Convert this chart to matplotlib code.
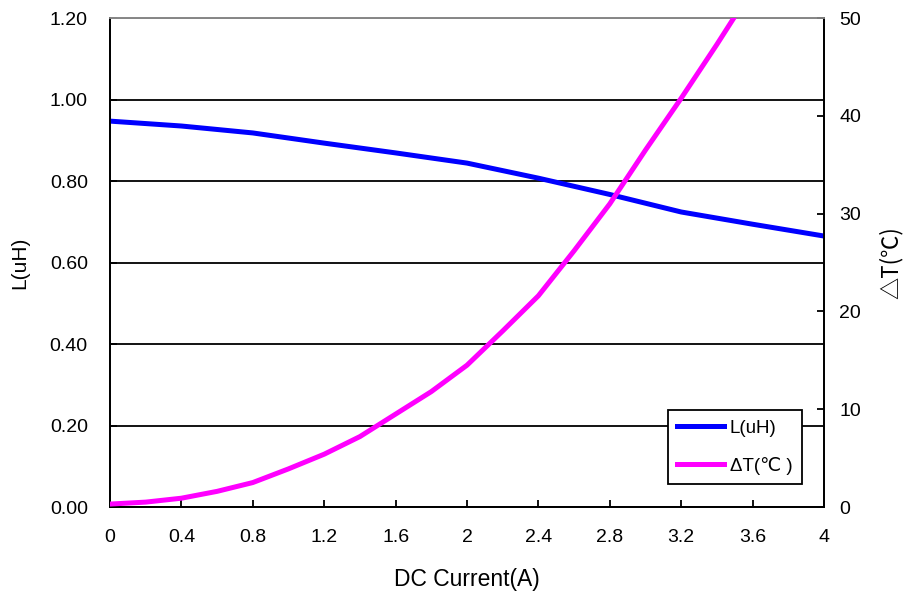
import matplotlib
matplotlib.use("Agg")
import matplotlib.pyplot as plt

current = [0, 0.4, 0.8, 1.2, 1.6, 2.0, 2.4, 2.8, 3.2, 3.6, 4.0]
inductance = [0.947, 0.935, 0.918, 0.893, 0.869, 0.844, 0.807, 0.767, 0.724, 0.694, 0.665]

current_t = [0, 0.2, 0.4, 0.6, 0.8, 1.0, 1.2, 1.4, 1.6, 1.8, 2.0, 2.2, 2.4, 2.6, 2.8, 3.0, 3.2, 3.4, 3.6]
delta_t = [0.3, 0.5, 0.9, 1.6, 2.5, 3.9, 5.4, 7.2, 9.5, 11.8, 14.5, 18.0, 21.6, 26.2, 31.0, 36.5, 41.8, 47.3, 53.0]

x_ticks = [0, 0.4, 0.8, 1.2, 1.6, 2, 2.4, 2.8, 3.2, 3.6, 4]
x_labels = ["0", "0.4", "0.8", "1.2", "1.6", "2", "2.4", "2.8", "3.2", "3.6", "4"]
l_ticks = [0, 0.2, 0.4, 0.6, 0.8, 1.0, 1.2]
t_ticks = [0, 10, 20, 30, 40, 50]

plt.rcParams['font.family'] = ['Liberation Sans', 'DejaVu Sans']

fig = plt.figure(figsize=(9.13, 6.03), dpi=100)
ax = fig.add_axes([0.1205, 0.1592, 0.782, 0.8109])
ax2 = ax.twinx()

for y in l_ticks:
    ax.axhline(y, color='black', lw=1.3, zorder=0)

l1, = ax.plot(current, inductance, color='#0000ff', lw=3.6, label='L(uH)', zorder=3)
l2, = ax2.plot(current_t, delta_t, color='#ff00ff', lw=3.6, label='ΔT(℃ )', zorder=3)

ax.set_xlim(0, 4)
ax.set_ylim(0, 1.2)
ax2.set_ylim(0, 50)
ax.set_xticks(x_ticks)
ax.set_xticklabels(x_labels)
ax.set_yticks(l_ticks)
ax.set_yticklabels([f"{v:.2f}" for v in l_ticks])
ax2.set_yticks(t_ticks)

for a in (ax, ax2):
    a.tick_params(direction='in', length=5, width=1.3, labelsize=14, color='black')
    for s in a.spines.values():
        s.set_linewidth(1.3)
        s.set_color('black')
ax.tick_params(axis='x', pad=16)
ax.tick_params(axis='y', pad=16)
ax2.tick_params(axis='y', pad=11)
ax.spines['top'].set_color('#888888')
ax2.spines['top'].set_color('#888888')

ax.set_xlabel('DC Current(A)', fontsize=16.5, labelpad=16)
ax.set_ylabel('L(uH)', fontsize=15, labelpad=15)
ax2.set_ylabel('△T(℃)', fontsize=16, family=['Noto Sans CJK SC', 'DejaVu Sans'], labelpad=13)

leg = ax2.legend([l1, l2], ['L(uH)', 'ΔT(℃ )'], loc='lower right', bbox_to_anchor=(0.969, 0.047),
                 borderaxespad=0, frameon=True, fancybox=False, edgecolor='black', framealpha=1,
                 fontsize=13.5, handlelength=2.5, handletextpad=0.3, labelspacing=1.05, borderpad=0.5)
leg.get_frame().set_linewidth(1.3)

fig.savefig('out.png', dpi=100)
